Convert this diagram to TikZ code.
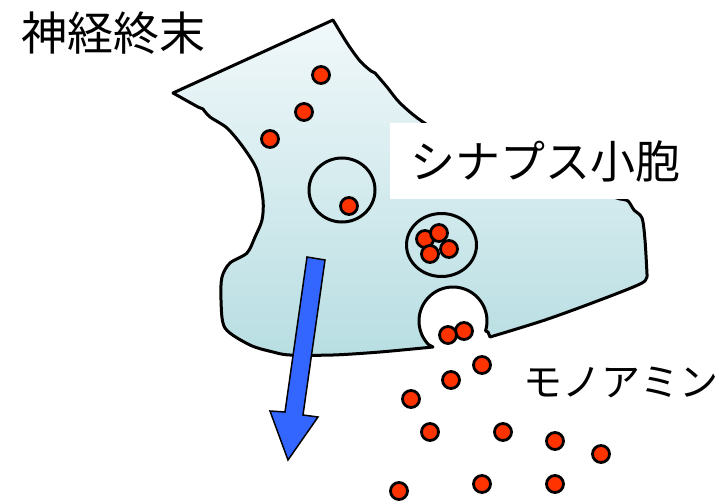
\documentclass[tikz,border=0pt]{standalone}
\usepackage{fontspec}
\newfontfamily\jpfont{Noto Sans CJK JP}
\definecolor{termtop}{RGB}{241,248,250}
\definecolor{termbot}{RGB}{184,222,226}
\definecolor{monored}{RGB}{255,51,0}
\definecolor{arrowblue}{RGB}{51,102,255}
\tikzset{
  outline/.style={draw=black,line width=3pt,line join=round},
  vesicle/.style={draw=black,line width=3pt},
  molecule/.style={draw=black,line width=2.8pt,fill=monored},
  labeltext/.style={inner sep=0pt,font=\jpfont,text=black},
}
\newcommand{\mol}[1]{\path[molecule] #1 circle[radius=8.5pt];}
\begin{document}
\begin{tikzpicture}[x=1pt,y=-1pt]
\useasboundingbox (0,0) rectangle (720,503);
% nerve terminal outline with exocytosis opening
\path[outline,top color=termtop,bottom color=termbot]
  (173,93) -- (333,20)
  -- plot[smooth,tension=0.5] coordinates {(333,20) (347,43) (360,61) (371,71)}
  -- (375,73)
  -- plot[smooth,tension=0.5] coordinates {(375,73) (387,87) (400,103) (423,122) (470,150) (560,180) (620,199)}
  -- plot[smooth,tension=0.5] coordinates {(620,199) (628,201) (634,210) (642,218) (645,240) (647,274)}
  -- plot[smooth,tension=0.5] coordinates {(647,274) (642,283) (600,300) (545,320) (490,337)}
  -- (488,332)
  -- plot[domain=17:-224,samples=60] ({453+34*cos(\x)},{321+34*sin(\x)})
  -- (433,347)
  -- plot[smooth,tension=0.5] coordinates {(433,347) (380,352) (333,355) (290,355) (273,352) (250,345) (225,328) (221,300) (222,277) (230,263) (247,253) (255,237) (262,220) (263,200) (257,170) (243,147) (227,128) (210,117) (203,109)}
  -- (198,107) -- cycle;
% synaptic vesicles
\draw[vesicle] (342,190) ellipse[x radius=33pt,y radius=32pt];
\draw[vesicle] (441.5,245) ellipse[x radius=35pt,y radius=31.5pt];
% monoamine molecules inside the terminal
\mol{(321,75)}
\mol{(304,112)}
\mol{(270,139)}
\mol{(349,206)}
\mol{(425,239)}
\mol{(439,233)}
\mol{(449,249)}
\mol{(430,254)}
% released molecules
\mol{(464,331)}
\mol{(448,335)}
\mol{(482,365)}
\mol{(451,380)}
\mol{(411,399)}
\mol{(430,432)}
\mol{(503,432)}
\mol{(555,441)}
\mol{(601,454)}
\mol{(399,491)}
\mol{(482,484)}
\mol{(555,484)}
% labels
\node[labeltext,font=\jpfont\fontsize{46pt}{50pt}\selectfont] (terminal) at (113,33) {神経終末};
\node[labeltext,fill=white,minimum width=310pt,minimum height=76pt,
      font=\jpfont\fontsize{45pt}{50pt}\selectfont] (vesiclelabel) at (545,161) {シナプス小胞};
\node[labeltext,font=\jpfont\fontsize{39pt}{44pt}\selectfont] (monoamine) at (621,382) {モノアミン};
% blue arrow
\draw[black,line width=1.5pt,fill=arrowblue,line join=miter]
  (307,257) -- (325,260) -- (303,415) -- (318,417) -- (288,460) -- (270,411) -- (285,412) -- cycle;
\end{tikzpicture}
\end{document}
